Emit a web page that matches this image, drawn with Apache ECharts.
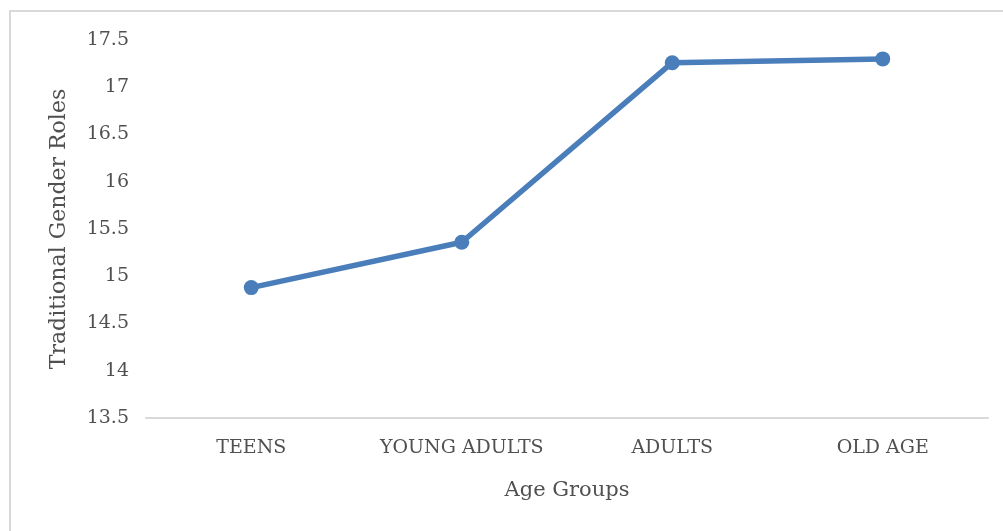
<!DOCTYPE html>
<html>
<head>
<meta charset="utf-8">
<script src="https://cdn.jsdelivr.net/npm/echarts@6/dist/echarts.min.js"></script>
<style>
  html, body { margin: 0; padding: 0; background: #fff; }
  #frame { position: absolute; left: 9px; top: 10px; width: 1000px; height: 530px; border-left: 2px solid #d9d9d9; border-top: 2px solid #d9d9d9; box-sizing: border-box; }
  #chart { position: absolute; left: 0; top: 0; width: 1003px; height: 531px; }
</style>
</head>
<body>
<div id="frame"></div>
<div id="chart"></div>
<script>
const categories = ['TEENS', 'YOUNG ADULTS', 'ADULTS', 'OLD AGE'];
const values = [14.88, 15.36, 17.26, 17.30];
const yTicks = [13.5, 14, 14.5, 15, 15.5, 16, 16.5, 17, 17.5];

const font = 'DejaVu Serif';
const textColor = '#505050';

const chart = echarts.init(document.getElementById('chart'));
chart.setOption({
  animation: false,
  grid: { left: 146, right: 15, top: 40, bottom: 113 },
  xAxis: {
    type: 'category',
    data: categories,
    name: 'Age Groups',
    nameLocation: 'middle',
    nameGap: 62,
    nameTextStyle: { fontFamily: font, fontSize: 21, color: textColor },
    axisLine: { lineStyle: { color: '#d9d9d9', width: 2 } },
    axisTick: { show: false },
    axisLabel: { interval: 0, fontFamily: font, fontSize: 19, color: textColor, margin: 21 }
  },
  yAxis: {
    type: 'value',
    min: yTicks[0],
    max: yTicks[yTicks.length - 1],
    interval: 0.5,
    name: 'Traditional Gender Roles',
    nameLocation: 'middle',
    nameGap: 76,
    nameTextStyle: { fontFamily: font, fontSize: 22, color: textColor },
    axisLine: { show: false },
    axisTick: { show: false },
    splitLine: { show: false },
    axisLabel: { fontFamily: font, fontSize: 19, color: textColor, margin: 17 }
  },
  series: [{
    type: 'line',
    data: values,
    symbol: 'circle',
    symbolSize: 15,
    lineStyle: { color: '#4a7ebb', width: 5.5 },
    itemStyle: { color: '#4a7ebb' }
  }]
});
</script>
</body>
</html>
